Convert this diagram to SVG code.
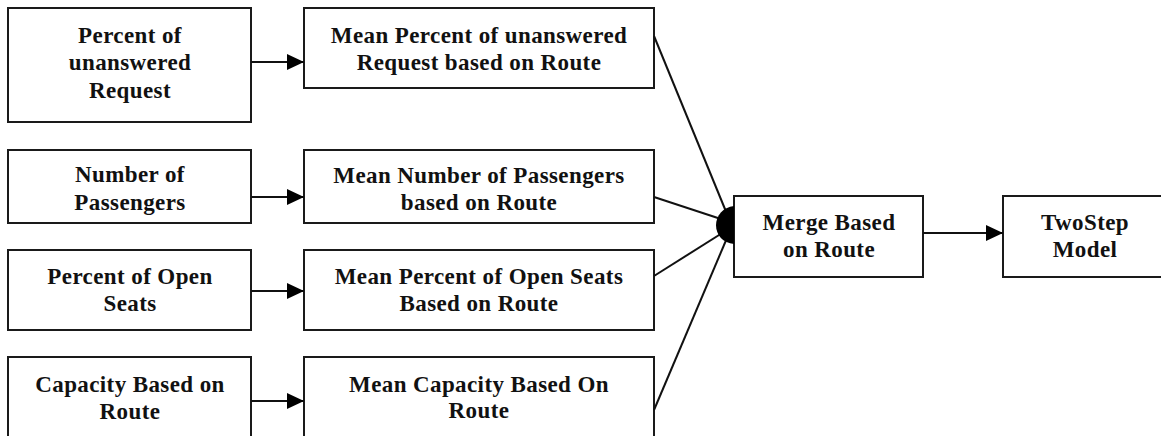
<svg xmlns="http://www.w3.org/2000/svg" width="1161" height="436" viewBox="0 0 1161 436">
<style>
.box{fill:#fff;stroke:#1a1a1a;stroke-width:2}
.t{font-weight:700;font-size:23px;letter-spacing:0.4px;fill:#111;text-anchor:middle}
.c{stroke:#111;stroke-width:2;fill:none}
</style>
<defs>
<marker id="ah" viewBox="0 0 17 16" refX="17" refY="8" markerWidth="17" markerHeight="16" markerUnits="userSpaceOnUse" orient="auto">
<path d="M0,0 L17,8 L0,16 Z" fill="#000"/>
</marker>
</defs>
<rect width="1161" height="436" fill="#fff"/>
<g font-family="Liberation Serif, serif">
<g id="n1"><rect class="box" x="8" y="8" width="243" height="114"/>
<text class="t" x="130" y="43">Percent of</text><text class="t" x="130" y="70">unanswered</text><text class="t" x="130" y="98">Request</text></g>
<g id="n2"><rect class="box" x="8" y="150" width="243" height="73"/>
<text class="t" x="130" y="182">Number of</text><text class="t" x="130" y="210">Passengers</text></g>
<g id="n3"><rect class="box" x="8" y="250" width="243" height="80"/>
<text class="t" x="130" y="284">Percent of Open</text><text class="t" x="130" y="311">Seats</text></g>
<g id="n4"><rect class="box" x="8" y="357" width="243" height="100"/>
<text class="t" x="130" y="392">Capacity Based on</text><text class="t" x="130" y="419">Route</text></g>
<g id="m1"><rect class="box" x="304" y="8" width="350" height="80"/>
<text class="t" x="479" y="43">Mean Percent of unanswered</text><text class="t" x="479" y="70">Request based on Route</text></g>
<g id="m2"><rect class="box" x="304" y="150" width="350" height="73"/>
<text class="t" x="479" y="183">Mean Number of Passengers</text><text class="t" x="479" y="210">based on Route</text></g>
<g id="m3"><rect class="box" x="304" y="250" width="350" height="80"/>
<text class="t" x="479" y="284">Mean Percent of Open Seats</text><text class="t" x="479" y="311">Based on Route</text></g>
<g id="m4"><rect class="box" x="304" y="357" width="350" height="100"/>
<text class="t" x="479" y="392">Mean Capacity Based On</text><text class="t" x="479" y="418">Route</text></g>
<g id="merge"><rect class="box" x="734" y="196" width="189" height="81"/>
<text class="t" x="829" y="230">Merge Based</text><text class="t" x="829" y="257">on Route</text></g>
<g id="twostep"><rect class="box" x="1003" y="196" width="170" height="81"/>
<text class="t" x="1085" y="230">TwoStep</text><text class="t" x="1085" y="257">Model</text></g>
</g>
<g id="connectors">
<line class="c" x1="251" y1="62" x2="304" y2="62" marker-end="url(#ah)"/>
<line class="c" x1="251" y1="197" x2="304" y2="197" marker-end="url(#ah)"/>
<line class="c" x1="251" y1="291" x2="304" y2="291" marker-end="url(#ah)"/>
<line class="c" x1="251" y1="401" x2="304" y2="401" marker-end="url(#ah)"/>
<line class="c" x1="923" y1="233" x2="1003" y2="233" marker-end="url(#ah)"/>
<line class="c" x1="654" y1="36" x2="727" y2="214"/>
<line class="c" x1="654" y1="197" x2="727" y2="221"/>
<line class="c" x1="654" y1="276" x2="727" y2="230"/>
<line class="c" x1="654" y1="410" x2="727" y2="238"/>
<path d="M734,206 C723,207 716,216 716,225 C716,235 723,243 734,244 Z" fill="#000"/>
</g>
</svg>
